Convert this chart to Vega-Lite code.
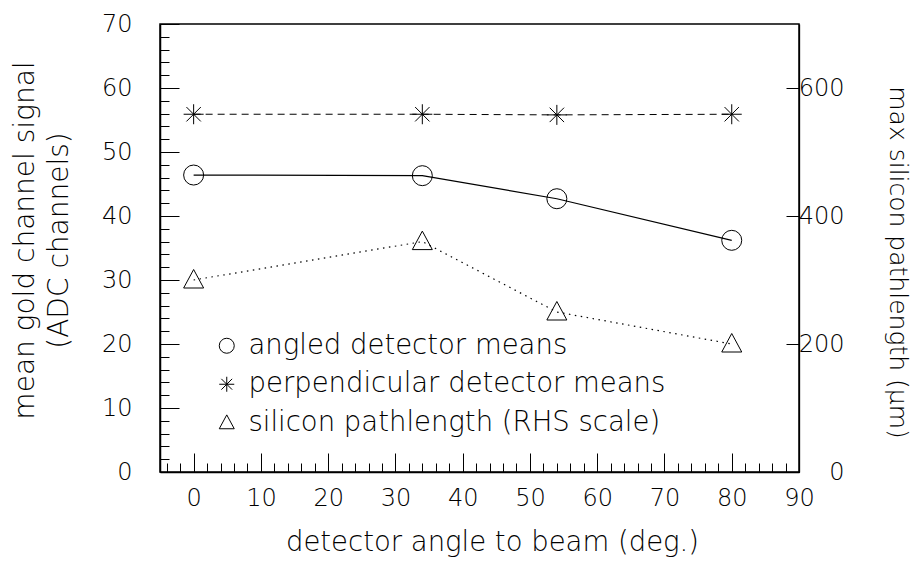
{
  "$schema": "https://vega.github.io/schema/vega-lite/v6.json",
  "autosize": "none",
  "width": 639,
  "height": 448,
  "padding": {"left": 160, "top": 24, "right": 123, "bottom": 89},
  "background": "white",
  "config": {
    "view": {"stroke": "black", "strokeWidth": 1.5},
    "font": "DejaVu Sans",
    "axis": {
      "grid": false,
      "labelFont": "DejaVu Sans",
      "titleFont": "DejaVu Sans",
      "labelFontWeight": 200,
      "titleFontWeight": 200,
      "labelColor": "black",
      "titleColor": "black",
      "tickColor": "black",
      "domainColor": "black",
      "tickWidth": 1,
      "labelFlush": false,
      "labelOverlap": false,
      "labelBound": false,
      "labelFontSize": 24
    },
    "legend": {
      "orient": "none",
      "legendX": 53,
      "legendY": 308,
      "padding": 0,
      "symbolSize": 225,
      "symbolStrokeWidth": 1,
      "symbolStrokeColor": "black",
      "symbolFillColor": "transparent",
      "labelFont": "DejaVu Sans",
      "labelFontSize": 27.5,
      "labelFontWeight": 200,
      "labelColor": "black",
      "labelOffset": 8,
      "rowPadding": 9.5,
      "labelLimit": 1000
    }
  },
  "datasets": {
    "angled": [
      {"angle": 0, "signal": 46.4, "series": "angled detector means"},
      {"angle": 34, "signal": 46.3, "series": "angled detector means"},
      {"angle": 54, "signal": 42.7, "series": "angled detector means"},
      {"angle": 80, "signal": 36.2, "series": "angled detector means"}
    ],
    "perp": [
      {"angle": 0, "signal": 55.9, "series": "perpendicular detector means"},
      {"angle": 34, "signal": 55.9, "series": "perpendicular detector means"},
      {"angle": 54, "signal": 55.8, "series": "perpendicular detector means"},
      {"angle": 80, "signal": 55.9, "series": "perpendicular detector means"}
    ],
    "silicon": [
      {"angle": 0, "pathlength": 300, "series": "silicon pathlength (RHS scale)"},
      {"angle": 34, "pathlength": 360, "series": "silicon pathlength (RHS scale)"},
      {"angle": 54, "pathlength": 250, "series": "silicon pathlength (RHS scale)"},
      {"angle": 80, "pathlength": 200, "series": "silicon pathlength (RHS scale)"}
    ]
  },
  "layer": [
    {
      "data": {"name": "angled"},
      "mark": {"type": "line", "color": "black", "strokeWidth": 1.2},
      "encoding": {
        "x": {
          "field": "angle", "type": "quantitative",
          "scale": {"domain": [-5, 90], "nice": false, "zero": false},
          "axis": {
            "orient": "bottom",
            "values": [0, 10, 20, 30, 40, 50, 60, 70, 80, 90],
            "tickSize": -19,
            "labelPadding": 33,
            "domain": true,
            "domainWidth": 1.5,
            "title": "detector angle to beam (deg.)",
            "titleFontSize": 27.5,
            "titleAlign": "center",
            "titleBaseline": "alphabetic",
            "titleX": 332,
            "titleY": 78
          }
        },
        "y": {
          "field": "signal", "type": "quantitative",
          "scale": {"domain": [0, 70], "nice": false, "zero": false},
          "axis": {
            "orient": "left",
            "values": [0, 10, 20, 30, 40, 50, 60, 70],
            "tickSize": -19,
            "labelPadding": 47,
            "domain": true,
            "domainWidth": 1.5,
            "title": ["mean gold channel signal", "(ADC channels)"],
            "titleFontSize": 28,
            "titleLineHeight": 34,
            "titleAngle": 270,
            "titleAlign": "center",
            "titleBaseline": "middle",
            "titleX": -135,
            "titleY": 216
          }
        }
      }
    },
    {
      "data": {"name": "angled"},
      "mark": {"type": "point", "filled": false, "color": "black", "size": 400, "strokeWidth": 1, "opacity": 1},
      "encoding": {
        "x": {
          "field": "angle", "type": "quantitative",
          "axis": {
            "orient": "bottom",
            "values": [-4, -2, 0, 2, 4, 6, 8, 10, 12, 14, 16, 18, 20, 22, 24, 26, 28, 30, 32, 34, 36, 38, 40, 42, 44, 46, 48, 50, 52, 54, 56, 58, 60, 62, 64, 66, 68, 70, 72, 74, 76, 78, 80, 82, 84, 86, 88],
            "tickSize": -9,
            "labels": false,
            "domain": false,
            "title": null
          }
        },
        "y": {
          "field": "signal", "type": "quantitative",
          "scale": {"domain": [0, 70], "nice": false, "zero": false},
          "axis": {
            "orient": "left",
            "values": [2, 4, 6, 8, 12, 14, 16, 18, 22, 24, 26, 28, 32, 34, 36, 38, 42, 44, 46, 48, 52, 54, 56, 58, 62, 64, 66, 68],
            "tickSize": -9,
            "labels": false,
            "domain": false,
            "title": null
          }
        },
        "shape": {
          "field": "series", "type": "nominal",
          "scale": {
            "domain": ["angled detector means", "perpendicular detector means", "silicon pathlength (RHS scale)"],
            "range": ["circle", "M-1,0L1,0M0,-1L0,1M-0.72,-0.72L0.72,0.72M-0.72,0.72L0.72,-0.72", "M0,-1.05L1,0.8L-1,0.8Z"]
          },
          "legend": {"title": null}
        }
      }
    },
    {
      "data": {"name": "perp"},
      "mark": {"type": "line", "color": "black", "strokeWidth": 1, "strokeDash": [7, 5]},
      "encoding": {
        "x": {"field": "angle", "type": "quantitative", "axis": null},
        "y": {"field": "signal", "type": "quantitative", "scale": {"domain": [0, 70], "nice": false, "zero": false}, "axis": null}
      }
    },
    {
      "data": {"name": "perp"},
      "mark": {"type": "point", "filled": false, "color": "black", "size": 400, "strokeWidth": 1, "opacity": 1},
      "encoding": {
        "x": {"field": "angle", "type": "quantitative", "axis": null},
        "y": {"field": "signal", "type": "quantitative", "scale": {"domain": [0, 70], "nice": false, "zero": false}, "axis": null},
        "shape": {"field": "series", "type": "nominal", "legend": {"title": null}}
      }
    },
    {
      "data": {"name": "silicon"},
      "mark": {"type": "line", "color": "black", "strokeWidth": 1.2, "strokeDash": [1.5, 4.5]},
      "encoding": {
        "x": {"field": "angle", "type": "quantitative", "axis": null},
        "y": {
          "field": "pathlength", "type": "quantitative",
          "scale": {"domain": [0, 700], "nice": false, "zero": false},
          "axis": {
            "orient": "right",
            "values": [0, 200, 400, 600],
            "tickSize": -13,
            "labelAlign": "right",
            "labelBaseline": "middle",
            "labelPadding": 58,
            "domain": true,
            "domainWidth": 1.3,
            "title": "max silicon pathlength (μm)",
            "titleFontSize": 25,
            "titleAngle": 90,
            "titleAlign": "center",
            "titleBaseline": "middle",
            "titleX": 98,
            "titleY": 238
          }
        }
      }
    },
    {
      "data": {"name": "silicon"},
      "mark": {"type": "point", "filled": false, "color": "black", "size": 400, "strokeWidth": 1, "opacity": 1},
      "encoding": {
        "x": {"field": "angle", "type": "quantitative", "axis": null},
        "y": {"field": "pathlength", "type": "quantitative", "scale": {"domain": [0, 700], "nice": false, "zero": false}, "axis": null},
        "shape": {"field": "series", "type": "nominal", "legend": {"title": null}}
      }
    }
  ],
  "resolve": {"scale": {"y": "independent"}, "axis": {"x": "independent", "y": "independent"}}
}
